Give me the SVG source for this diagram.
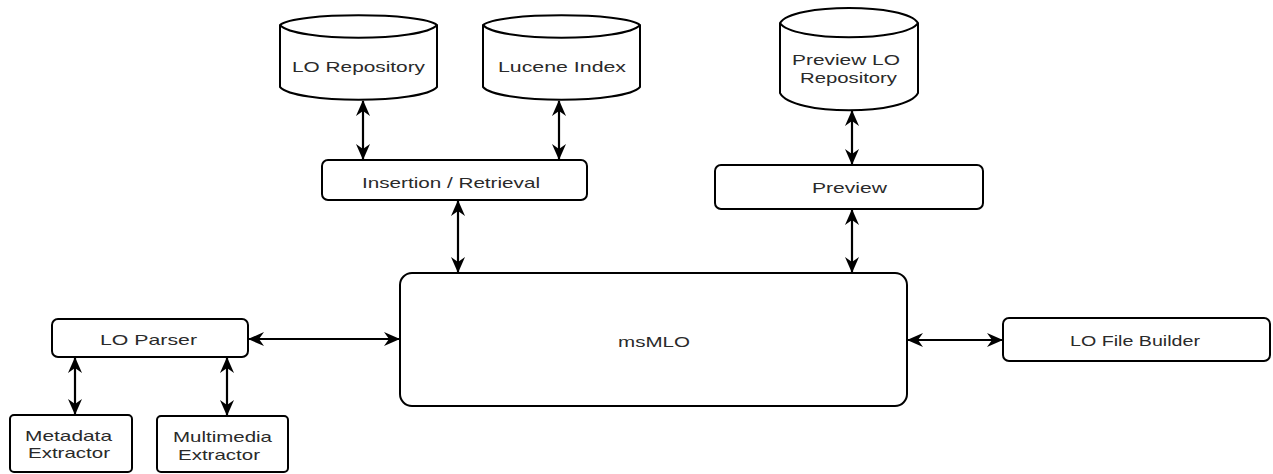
<svg xmlns="http://www.w3.org/2000/svg" width="1273" height="474" viewBox="0 0 1273 474">
<style>
.box{fill:#fff;stroke:#000;stroke-width:2}
.db{fill:#fff;stroke:#000;stroke-width:2;stroke-linejoin:round}
.lid{fill:none;stroke:#000;stroke-width:2}
.t{font-family:"Liberation Sans",Arial,sans-serif;font-size:15px;fill:#2a2a2a;text-anchor:start}
.c{fill:none;stroke:#000;stroke-width:2.2;marker-start:url(#ah);marker-end:url(#ah)}
</style>
<defs>
<marker id="ah" viewBox="0 0 16 16" refX="15" refY="8" markerWidth="16" markerHeight="16" markerUnits="userSpaceOnUse" orient="auto-start-reverse">
<path d="M0,1 L16,8 L0,15 L5,8 Z" fill="#000"/>
</marker>
</defs>
<rect width="1273" height="474" fill="#fff"/>

<g id="lo-repository">
<path class="db" d="M280,25 C295,12 422,12 437,25 L437,87 C422,104 295,104 280,87 Z"/>
<path class="lid" d="M280,25 C295,42 422,42 437,25"/>
<text class="t" x="292" y="72" textLength="133" lengthAdjust="spacingAndGlyphs">LO Repository</text>
</g>

<g id="lucene-index">
<path class="db" d="M483,25 C498,12 625,12 640,25 L640,87 C625,104 498,104 483,87 Z"/>
<path class="lid" d="M483,25 C498,42 625,42 640,25"/>
<text class="t" x="498" y="72" textLength="128" lengthAdjust="spacingAndGlyphs">Lucene Index</text>
</g>

<g id="preview-lo-repository">
<path class="db" d="M780,23 C792,3 906,3 918,23 L918,93 C906,116 792,116 780,93 Z"/>
<path class="lid" d="M780,23 C792,42 906,42 918,23"/>
<text class="t" x="792" y="65" textLength="108" lengthAdjust="spacingAndGlyphs">Preview LO</text>
<text class="t" x="800" y="83" textLength="97" lengthAdjust="spacingAndGlyphs">Repository</text>
</g>

<g id="insertion-retrieval">
<rect class="box" x="322" y="160" width="265" height="40" rx="6"/>
<text class="t" x="362" y="188" textLength="178" lengthAdjust="spacingAndGlyphs">Insertion / Retrieval</text>
</g>

<g id="preview">
<rect class="box" x="715" y="165" width="268" height="44" rx="6"/>
<text class="t" x="812" y="193" textLength="75" lengthAdjust="spacingAndGlyphs">Preview</text>
</g>

<g id="msmlo">
<rect class="box" x="400" y="273" width="507" height="133" rx="12"/>
<text class="t" x="618" y="347" textLength="72" lengthAdjust="spacingAndGlyphs">msMLO</text>
</g>

<g id="lo-parser">
<rect class="box" x="52" y="319" width="196" height="38" rx="6"/>
<text class="t" x="100" y="345" textLength="97" lengthAdjust="spacingAndGlyphs">LO Parser</text>
</g>

<g id="lo-file-builder">
<rect class="box" x="1003" y="318" width="267" height="43" rx="6"/>
<text class="t" x="1070" y="346" textLength="130" lengthAdjust="spacingAndGlyphs">LO File Builder</text>
</g>

<g id="metadata-extractor">
<rect class="box" x="10" y="415" width="122" height="57" rx="4"/>
<text class="t" x="25" y="441" textLength="87" lengthAdjust="spacingAndGlyphs">Metadata</text>
<text class="t" x="28" y="458" textLength="82" lengthAdjust="spacingAndGlyphs">Extractor</text>
</g>

<g id="multimedia-extractor">
<rect class="box" x="157" y="416" width="131" height="56" rx="4"/>
<text class="t" x="173" y="442" textLength="99" lengthAdjust="spacingAndGlyphs">Multimedia</text>
<text class="t" x="178" y="460" textLength="82" lengthAdjust="spacingAndGlyphs">Extractor</text>
</g>

<g id="connectors">
<path class="c" d="M363,101 L363,159"/>
<path class="c" d="M559,101 L559,159"/>
<path class="c" d="M458,201 L458,272"/>
<path class="c" d="M852,111 L852,164"/>
<path class="c" d="M852,210 L852,272"/>
<path class="c" d="M249,339 L399,339"/>
<path class="c" d="M908,340 L1002,340"/>
<path class="c" d="M75,358 L75,414"/>
<path class="c" d="M227,358 L227,415"/>
</g>
</svg>
